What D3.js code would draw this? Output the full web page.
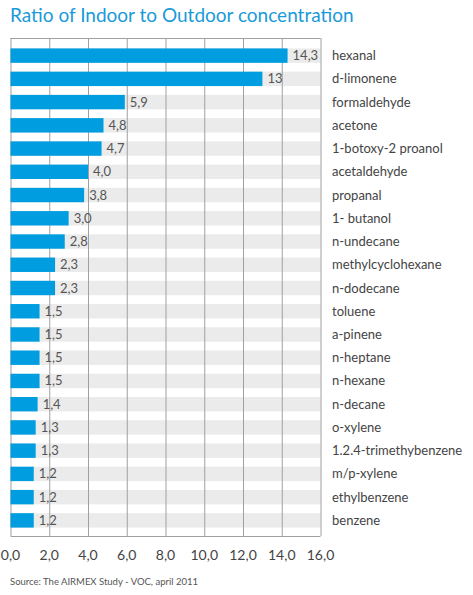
<!DOCTYPE html><html><head><meta charset="utf-8"><script src="https://cdn.jsdelivr.net/npm/d3@7"></script>
<style>body{margin:0;background:#fff}text{font-family:"Lato","Open Sans",sans-serif}</style></head><body><svg id="c" width="473" height="595"></svg>
<script>
const categories=["hexanal","d-limonene","formaldehyde","acetone","1-botoxy-2 proanol","acetaldehyde","propanal","1- butanol","n-undecane","methylcyclohexane","n-dodecane","toluene","a-pinene","n-heptane","n-hexane","n-decane","o-xylene","1.2.4-trimethybenzene","m/p-xylene","ethylbenzene","benzene"];
const values=[14.3,13,5.9,4.8,4.7,4.0,3.8,3.0,2.8,2.3,2.3,1.5,1.5,1.5,1.5,1.4,1.3,1.3,1.2,1.2,1.2];
const valueLabels=["14,3","13","5,9","4,8","4,7","4,0","3,8","3,0","2,8","2,3","2,3","1,5","1,5","1,5","1,5","1,4","1,3","1,3","1,2","1,2","1,2"];
const ticks=[0,2,4,6,8,10,12,14,16];
const svg=d3.select("#c");
const x=d3.scaleLinear().domain([0,16]).range([10.5,320.5]);
const y=d3.scaleBand().domain(categories).range([44,532]).paddingInner(0.38).paddingOuter(0.19);
svg.append("text").attr("x",10).attr("y",22).attr("fill","#1a9ad8").attr("font-size",19).text("Ratio of Indoor to Outdoor concentration");
svg.selectAll(".bg").data(categories).join("rect").attr("x",x(0)).attr("width",x(16)-x(0)).attr("y",d=>y(d)).attr("height",y.bandwidth()).attr("fill","#ebebeb");
svg.selectAll(".g").data(ticks).join("line").attr("x1",d=>x(d)+0.5).attr("x2",d=>x(d)+0.5).attr("y1",38).attr("y2",536).attr("stroke","#a0a0a0");
svg.append("line").attr("x1",x(0)).attr("x2",x(16)).attr("y1",38.5).attr("y2",38.5).attr("stroke","#a0a0a0");
svg.append("line").attr("x1",x(0)).attr("x2",x(16)).attr("y1",536.5).attr("y2",536.5).attr("stroke","#a0a0a0");
svg.selectAll(".b").data(values).join("rect").attr("x",x(0)).attr("y",(d,i)=>y(categories[i])).attr("height",y.bandwidth()).attr("width",d=>x(d)-x(0)).attr("fill","#009ee0");
svg.selectAll(".v").data(values).join("text").attr("x",d=>x(d)+5).attr("y",(d,i)=>y(categories[i])+y.bandwidth()/2+4.5).attr("font-size",13).attr("fill","#555").text((d,i)=>valueLabels[i]);
svg.selectAll(".c").data(categories).join("text").attr("x",332).attr("y",d=>y(d)+y.bandwidth()/2+4.5).attr("font-size",13).attr("fill","#444").text(d=>d);
svg.selectAll(".t").data(ticks).join("text").attr("x",d=>x(d)).attr("y",560).attr("text-anchor","middle").attr("font-size",14).attr("fill","#444").text(d=>d.toFixed(1).replace(".",","));
svg.append("text").attr("x",10).attr("y",585).attr("font-size",9.5).attr("fill","#555").text("Source: The AIRMEX Study - VOC, april 2011");
</script></body></html>
